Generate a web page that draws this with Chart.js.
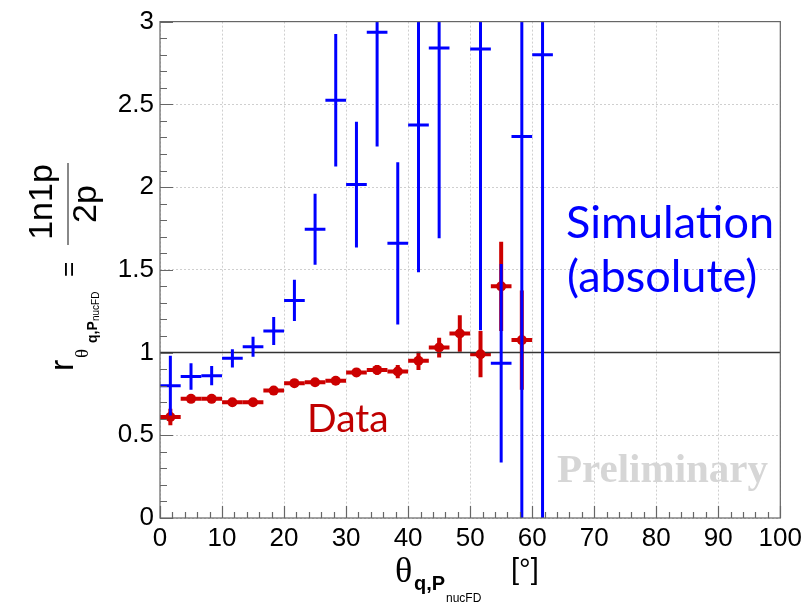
<!DOCTYPE html>
<html>
<head>
<meta charset="utf-8">
<script src="https://cdn.jsdelivr.net/npm/chart.js@4.4.1/dist/chart.umd.min.js"></script>
<style>
  html, body { margin: 0; padding: 0; background: #fff; }
  canvas { display: block; }
</style>
</head>
<body>
<canvas id="ratioChart" width="807" height="607"></canvas>
<script>
// data (red points, measured ratio)
const dataX = [1.67, 5, 8.33, 11.67, 15, 18.33, 21.67, 25, 28.33, 31.67, 35, 38.33, 41.67, 45, 48.33, 51.67, 55, 58.33];
const dataY = [0.61, 0.72, 0.72, 0.70, 0.70, 0.77, 0.815, 0.82, 0.83, 0.88, 0.895, 0.885, 0.95, 1.03, 1.115, 0.99, 1.40, 1.075];
const dataErr = [0.05, 0.02, 0.02, 0.015, 0.015, 0.02, 0.02, 0.02, 0.02, 0.025, 0.03, 0.04, 0.055, 0.06, 0.11, 0.14, 0.27, 0.30];

// simulation (blue crosses)
const simX = [1.67, 5, 8.33, 11.67, 15, 18.33, 21.67, 25, 28.33, 31.67, 35, 38.33, 41.67, 45, 51.67, 55, 58.33, 61.67];
const simY = [0.80, 0.855, 0.86, 0.965, 1.035, 1.13, 1.315, 1.745, 2.525, 2.015, 2.935, 1.66, 2.375, 2.84, 2.835, 0.935, 2.305, 2.80];
const simErr = [0.18, 0.08, 0.058, 0.055, 0.06, 0.085, 0.125, 0.215, 0.40, 0.38, 0.69, 0.49, 0.89, 1.15, 1.70, 0.60, 2.6, 3.0];

const binHalf = 1.667;
const xTickLabels = ["0", "10", "20", "30", "40", "50", "60", "70", "80", "90", "100"];
const yTickLabels = ["0", "0.5", "1", "1.5", "2", "2.5", "3"];

const RED = "#cc0000";
const BLUE = "#0000ff";

function drawErrorBars(chart, ds, color, width) {
  const ctx = chart.ctx;
  const a = chart.chartArea;
  const x = chart.scales.x, y = chart.scales.y;
  ctx.save();
  ctx.beginPath();
  ctx.rect(a.left, a.top, a.right - a.left, a.bottom - a.top);
  ctx.clip();
  ctx.strokeStyle = color;
  ctx.lineWidth = width;
  ds.data.forEach((p, i) => {
    const e = ds.errors[i];
    const px = x.getPixelForValue(p.x);
    const py = y.getPixelForValue(p.y);
    ctx.beginPath();
    ctx.moveTo(px, y.getPixelForValue(p.y - e));
    ctx.lineTo(px, y.getPixelForValue(p.y + e));
    ctx.moveTo(x.getPixelForValue(p.x - binHalf), py);
    ctx.lineTo(x.getPixelForValue(p.x + binHalf), py);
    ctx.stroke();
  });
  ctx.restore();
}

// rotated text, reading bottom to top
function vText(ctx, txt, x, y, font, align) {
  ctx.save();
  ctx.translate(x, y);
  ctx.rotate(-Math.PI / 2);
  ctx.font = font;
  ctx.textAlign = align || "left";
  ctx.textBaseline = "alphabetic";
  ctx.fillText(txt, 0, 0);
  ctx.restore();
}

function hText(ctx, txt, x, y, font, color) {
  ctx.font = font;
  ctx.fillStyle = color;
  ctx.textAlign = "left";
  ctx.textBaseline = "alphabetic";
  ctx.fillText(txt, x, y);
}

const rootPlugin = {
  id: "rootStyle",
  beforeDatasetsDraw(chart) {
    drawErrorBars(chart, chart.data.datasets[0], RED, 4);
  },
  afterDatasetsDraw(chart) {
    drawErrorBars(chart, chart.data.datasets[1], BLUE, 3);
  },
  afterDraw(chart) {
    const ctx = chart.ctx;
    const a = chart.chartArea;
    const x = chart.scales.x, y = chart.scales.y;

    // frame
    ctx.save();
    ctx.strokeStyle = "#666";
    ctx.lineWidth = 1.2;
    ctx.strokeRect(a.left, a.top, a.right - a.left, a.bottom - a.top);

    // inner ticks
    ctx.beginPath();
    for (let v = 0; v <= 100; v += 2) {
      const px = Math.round(x.getPixelForValue(v)) + 0.5;
      const len = v % 10 === 0 ? 12 : 6;
      ctx.moveTo(px, a.bottom);
      ctx.lineTo(px, a.bottom - len);
    }
    for (let k = 0; k <= 30; k++) {
      const py = Math.round(y.getPixelForValue(k / 10)) + 0.5;
      const len = k % 5 === 0 ? 13 : 7;
      ctx.moveTo(a.left, py);
      ctx.lineTo(a.left + len, py);
    }
    ctx.stroke();
    ctx.restore();

    // annotations
    ctx.save();
    hText(ctx, "Simulation", 566, 238, "45px Lato", BLUE);
    hText(ctx, "(absolute)", 567, 292, "45px Lato", BLUE);
    hText(ctx, "Data", 307, 432, "39px Lato", "#c00000");
    hText(ctx, "Preliminary", 557, 482, "bold 41px 'Liberation Serif'", "#d6d6d6");

    // x title
    hText(ctx, "\u03b8", 395, 582, "36px 'Liberation Serif'", "#000");
    hText(ctx, "q,P", 414, 590, "bold 20px 'Liberation Sans'", "#000");
    hText(ctx, "nucFD", 446, 602, "12px 'Liberation Sans'", "#000");
    hText(ctx, "[\u00b0]", 511, 579, "29px 'Liberation Sans'", "#000");

    // y title
    ctx.fillStyle = "#000";
    vText(ctx, "r", 73, 371, "34px 'Liberation Sans'");
    vText(ctx, "\u03b8", 88, 358, "19px 'Liberation Serif'");
    vText(ctx, "q,P", 97, 343, "bold 14px 'Liberation Sans'");
    vText(ctx, "nucFD", 99, 321, "10px 'Liberation Sans'");
    vText(ctx, "=", 77, 277, "26px 'Liberation Sans'");
    vText(ctx, "1n1p", 52, 202, "34px 'Liberation Sans'", "center");
    vText(ctx, "2p", 96, 204, "34px 'Liberation Sans'", "center");
    ctx.strokeStyle = "#888";
    ctx.lineWidth = 2;
    ctx.beginPath();
    ctx.moveTo(68, 163);
    ctx.lineTo(68, 245);
    ctx.stroke();
    ctx.restore();
  }
};

new Chart("ratioChart", {
  type: "scatter",
  data: {
    datasets: [
      {
        label: "Data",
        data: dataX.map((v, i) => ({ x: v, y: dataY[i] })),
        errors: dataErr,
        backgroundColor: RED,
        borderColor: RED,
        pointRadius: 5,
        pointBorderWidth: 0,
        showLine: false
      },
      {
        label: "Simulation",
        data: simX.map((v, i) => ({ x: v, y: simY[i] })),
        errors: simErr,
        pointRadius: 0,
        showLine: false
      },
      {
        label: "unity",
        data: [{ x: 0, y: 1 }, { x: 100, y: 1 }],
        borderColor: "#333",
        borderWidth: 1.5,
        pointRadius: 0,
        showLine: true
      }
    ]
  },
  options: {
    responsive: false,
    animation: false,
    events: [],
    layout: { padding: { left: 0, top: 15, right: 26, bottom: 0 }, autoPadding: false },
    plugins: {
      legend: { display: false },
      tooltip: { enabled: false }
    },
    scales: {
      x: {
        type: "linear",
        min: 0,
        max: 100,
        afterFit: (s) => { s.height = 89; },
        grid: { color: "#cfcfcf", lineWidth: 1, drawTicks: false },
        border: { display: false, dash: [2, 2] },
        ticks: {
          stepSize: 10,
          padding: 5,
          color: "#000",
          maxRotation: 0,
          font: { family: "'Liberation Sans'", size: 26 },
          callback: (v, i) => xTickLabels[i]
        }
      },
      y: {
        type: "linear",
        min: 0,
        max: 3,
        afterFit: (s) => { s.width = 160; },
        grid: { color: "#cfcfcf", lineWidth: 1, drawTicks: false },
        border: { display: false, dash: [2, 2] },
        ticks: {
          stepSize: 0.5,
          padding: 6,
          color: "#000",
          font: { family: "'Liberation Sans'", size: 26 },
          callback: (v, i) => yTickLabels[i]
        }
      }
    }
  },
  plugins: [rootPlugin]
});
</script>
</body>
</html>
